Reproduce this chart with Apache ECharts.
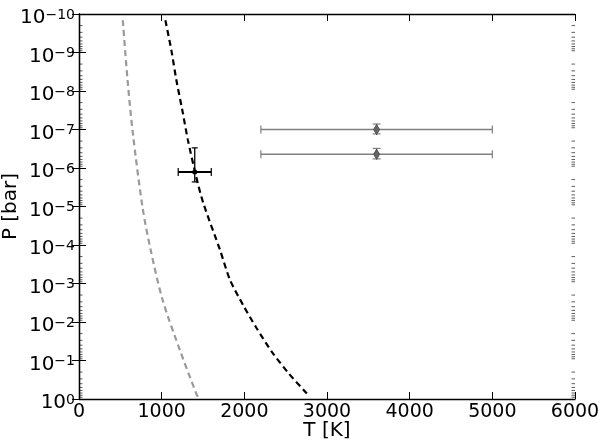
<!DOCTYPE html>
<html>
<head>
<meta charset="utf-8">
<script src="https://cdn.jsdelivr.net/npm/echarts@6.0.0/dist/echarts.min.js"></script>
<style>
  html, body { margin: 0; padding: 0; background: #fff; }
  #chart { width: 600px; height: 445px; }
</style>
</head>
<body>
<div id="chart"></div>
<script>
// temperature / pressure profiles
const grayT = [530, 587, 651, 770, 867, 1012, 1221, 1415, 1450];
const grayP = [1.45e-10, 5.1e-9, 1.23e-7, 1.1e-5, 1.35e-4, 2.7e-3, 5.4e-2, 0.69, 1.0];

const blackT = [1045, 1117, 1177, 1249, 1317, 1418, 1503, 1706, 1827, 1996, 2149, 2331, 2532, 2754, 2772];
const blackP = [1.45e-10, 8.7e-10, 5.1e-9, 3.1e-8, 1.86e-7, 1.7e-6, 8.1e-6, 1.35e-4, 8.1e-4, 4.0e-3, 1.45e-2, 5.9e-2, 0.21, 0.71, 0.8];

// measured point with error bars
const measT = [1400];
const measP = [1.27e-6];
const measTlo = [1200];
const measThi = [1600];
const measPlo = [3.0e-7];
const measPhi = [2.3e-6];

// grey diamonds with error bars
const diaT = [3600, 3600];
const diaP = [1.0e-7, 4.4e-7];
const diaTlo = [2200, 2200];
const diaThi = [5000, 5000];
const diaPlo = [7.2e-8, 3.1e-7];
const diaPhi = [1.3e-7, 5.8e-7];

const xTicks = [0, 1000, 2000, 3000, 4000, 5000, 6000];
const minorMult = [2, 3, 4, 5, 6, 7, 8, 9];

const FONT = 'DejaVu Sans';
const zip = (a, b) => a.map((v, i) => [v, b[i]]);

function errBars(color, wx, wy, capX, capY) {
  return function (params, api) {
    const x = api.value(0), y = api.value(1);
    const xl = api.coord([api.value(2), y]);
    const xr = api.coord([api.value(3), y]);
    const yt = api.coord([x, api.value(4)]);
    const yb = api.coord([x, api.value(5)]);
    const ln = (x1, y1, x2, y2, w) => ({ type: 'line', shape: { x1, y1, x2, y2 }, style: { stroke: color, lineWidth: w } });
    return {
      type: 'group',
      children: [
        ln(xl[0], xl[1], xr[0], xr[1], wx),
        ln(yt[0], yt[1], yb[0], yb[1], wy),
        ln(xl[0], xl[1] - capX, xl[0], xl[1] + capX, 1.2),
        ln(xr[0], xr[1] - capX, xr[0], xr[1] + capX, 1.2),
        ln(yt[0] - capY, yt[1], yt[0] + capY, yt[1], 1.2),
        ln(yb[0] - capY, yb[1], yb[0] + capY, yb[1], 1.2)
      ]
    };
  };
}

const chart = echarts.init(document.getElementById('chart'));

const axisLine = { show: true, lineStyle: { color: '#000', width: 1.3 } };
const tick = { show: true, inside: true, length: 7, lineStyle: { color: '#000', width: 1 } };

chart.setOption({
  animation: false,
  grid: { left: 79, right: 25, top: 14, bottom: 46, containLabel: false, outerBoundsMode: 'none' },
  xAxis: [{
    type: 'value', min: 0, max: 6000, interval: 1000,
    name: 'T [K]', nameLocation: 'middle', nameGap: 22, nameMoveOverlap: false,
    nameTextStyle: { fontFamily: FONT, fontSize: 20, color: '#000' },
    axisLine, axisTick: tick, splitLine: { show: false },
    axisLabel: { fontFamily: FONT, fontSize: 19, color: '#000', margin: 4, formatter: v => String(v) }
  }, {
    type: 'value', min: 0, max: 6000, interval: 1000, position: 'top',
    axisLine, axisTick: tick, splitLine: { show: false }, axisLabel: { show: false }
  }],
  yAxis: [{
    type: 'log', logBase: 10, min: 1e-10, max: 1, interval: 1, inverse: true,
    name: 'P [bar]', nameLocation: 'middle', nameGap: 58, nameRotate: 90, nameMoveOverlap: false,
    nameTextStyle: { fontFamily: FONT, fontSize: 20, color: '#000' },
    axisLine, axisTick: tick, splitLine: { show: false },
    axisLabel: {
      margin: 4,
      padding: [8, 0, 0, 0],
      formatter: v => {
        const e = Math.round(Math.log10(v));
        return '{b|10}{s|' + (e === 0 ? '0' : '\u2212' + (-e)) + '}';
      },
      rich: {
        b: { fontFamily: FONT, fontSize: 20, color: '#000', lineHeight: 20, verticalAlign: 'bottom' },
        s: { fontFamily: FONT, fontSize: 14, color: '#000', lineHeight: 8, verticalAlign: 'top' }
      }
    }
  }, {
    type: 'log', logBase: 10, min: 1e-10, max: 1, interval: 1, inverse: true, position: 'right',
    axisLine, axisTick: tick, splitLine: { show: false }, axisLabel: { show: false }
  }],
  series: [{
    type: 'line', data: zip(grayT, grayP), showSymbol: false, smooth: 0.3,
    lineStyle: { color: '#9a9a9a', width: 2.2, type: [6, 4] }, z: 2
  }, {
    type: 'line', data: zip(blackT, blackP), showSymbol: false, smooth: 0.25,
    lineStyle: { color: '#000', width: 2.2, type: [6, 4] }, z: 2
  }, {
    type: 'custom', renderItem: errBars('#808080', 1.3, 1.3, 4, 4),
    data: diaT.map((t, i) => [t, diaP[i], diaTlo[i], diaThi[i], diaPlo[i], diaPhi[i]]), z: 3
  }, {
    type: 'scatter', data: zip(diaT, diaP), symbol: 'diamond', symbolSize: [6, 10],
    itemStyle: { color: '#666', borderColor: '#444', borderWidth: 0.8, opacity: 1 }, z: 4
  }, {
    type: 'custom', renderItem: errBars('#000', 2.2, 1.3, 4, 3),
    data: measT.map((t, i) => [t, measP[i], measTlo[i], measThi[i], measPlo[i], measPhi[i]]), z: 3
  }, {
    type: 'scatter', data: zip(measT, measP), symbol: 'circle', symbolSize: 5,
    itemStyle: { color: '#000', opacity: 1 }, z: 4
  }]
});

// log-spaced minor ticks on left and right spines
const xl = chart.convertToPixel({ xAxisIndex: 0 }, xTicks[0]);
const xr = chart.convertToPixel({ xAxisIndex: 0 }, xTicks[xTicks.length - 1]);
const minor = [];
const mStyle = { stroke: '#333', lineWidth: 0.8 };
for (let k = -10; k < 0; k++) {
  minorMult.forEach(m => {
    const y = chart.convertToPixel({ yAxisIndex: 0 }, m * Math.pow(10, k));
    minor.push({ type: 'line', shape: { x1: xl, y1: y, x2: xl + 3.5, y2: y }, style: mStyle });
    minor.push({ type: 'line', shape: { x1: xr - 3.5, y1: y, x2: xr, y2: y }, style: mStyle });
  });
}
chart.setOption({ graphic: minor });
</script>
</body>
</html>
